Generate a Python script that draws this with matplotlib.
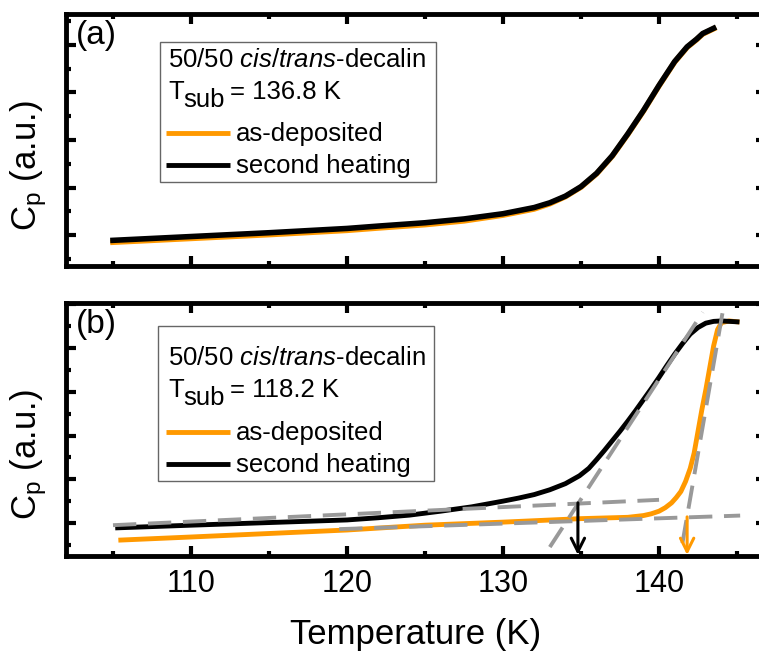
import matplotlib
matplotlib.use("Agg")
import matplotlib.pyplot as plt
from matplotlib.patches import Rectangle
from matplotlib.ticker import MultipleLocator

plt.rcParams['font.family'] = ['Liberation Sans', 'DejaVu Sans']
plt.rcParams['mathtext.fontset'] = 'custom'
plt.rcParams['mathtext.rm'] = 'Liberation Sans'
plt.rcParams['mathtext.it'] = 'Liberation Sans:italic'

ORANGE = '#ff9900'
GRAY = '#999999'

# ---- panel (a): T_sub = 136.8 K (arbitrary units) ----
a_T = [105, 110, 115, 120, 122, 125, 127.5, 130, 132, 133, 134, 135, 136, 137,
       138, 139, 140, 141, 141.8, 142.4, 142.8, 143.5]
a_second = [0.89, 0.97, 1.05, 1.14, 1.19, 1.26, 1.34, 1.45, 1.58, 1.68, 1.82, 2.02,
            2.30, 2.67, 3.13, 3.62, 4.15, 4.65, 4.96, 5.12, 5.24, 5.35]
a_asdep = [0.85, 0.93, 1.01, 1.10, 1.15, 1.22, 1.30, 1.42, 1.55, 1.66, 1.81, 2.01,
           2.29, 2.66, 3.12, 3.61, 4.14, 4.64, 4.95, 5.11, 5.23, 5.34]

# ---- panel (b): T_sub = 118.2 K ----
b_T_second = [105.3, 110, 115, 120, 122, 124, 126, 128, 130, 131, 132, 133, 134,
              134.9, 135.5, 136, 136.5, 137, 137.5, 138, 138.5, 139, 139.5, 140,
              140.5, 141, 141.5, 142, 142.5, 143, 143.5, 144, 145]
b_second = [0.89, 0.95, 1.01, 1.07, 1.12, 1.18, 1.27, 1.37, 1.50, 1.57, 1.65, 1.76,
            1.90, 2.08, 2.25, 2.45, 2.66, 2.88, 3.10, 3.33, 3.57, 3.82, 4.07, 4.33,
            4.60, 4.86, 5.10, 5.32, 5.47, 5.57, 5.61, 5.62, 5.60]
b_T_asdep = [105.5, 110, 115, 120, 125, 130, 135, 138, 139, 139.5, 140, 140.4,
             140.8, 141.1, 141.4, 141.7, 142.0, 142.25, 142.5, 142.75, 143.0, 143.25,
             143.5, 143.75, 144.0, 144.5, 145]
b_asdep = [0.61, 0.68, 0.76, 0.84, 0.95, 1.02, 1.10, 1.13, 1.17, 1.21, 1.27, 1.35,
           1.46, 1.58, 1.72, 1.95, 2.25, 2.60, 3.10, 3.60, 4.05, 4.55, 5.05, 5.42,
           5.58, 5.62, 5.60]

# onset construction lines (start, end) and onset temperatures
fit_lines = [((105.0, 140.0), (0.95, 1.53)),
             ((119.5, 145.2), (0.86, 1.17)),
             ((133.0, 142.8), (0.45, 5.82)),
             ((141.5, 144.1), (0.54, 5.87))]
onsets = [(134.8, 1.46, 'black'), (141.8, 1.14, ORANGE)]

XLIM = (101.99, 146.86)
AX_W, AX_H = 700.0, 252.0   # axes size in pixels, used for legend placement


def px(x, y):
    return x / AX_W, 1 - y / AX_H


def style_axes(ax, ylim):
    ax.set_xlim(*XLIM)
    ax.set_ylim(*ylim)
    ax.xaxis.set_major_locator(MultipleLocator(10))
    ax.xaxis.set_minor_locator(MultipleLocator(5))
    ax.yaxis.set_major_locator(MultipleLocator(1))
    ax.yaxis.set_minor_locator(MultipleLocator(0.5))
    ax.tick_params(which='both', direction='in', top=True, right=True,
                   width=3, labelleft=False, labelsize=22, pad=9)
    ax.tick_params(which='major', length=7)
    ax.tick_params(which='minor', length=3.5)
    for s in ax.spines.values():
        s.set_linewidth(3.5)
    ax.set_ylabel(r'C$_\mathrm{p}$ (a.u.)', fontsize=25)
    ax.yaxis.set_label_coords(-0.025, 0.40)


def draw_legend(ax, tsub, box, y0):
    bx0, by0, bx1, by1 = box
    ax.add_patch(Rectangle(px(bx0, by1), (bx1 - bx0) / AX_W, (by1 - by0) / AX_H,
                           transform=ax.transAxes, fill=False, ec='0.4', lw=1, zorder=6))
    kw = dict(transform=ax.transAxes, fontsize=18.5, va='baseline', ha='left', zorder=7)
    ax.text(*px(102, y0), r'50/50 $\mathit{cis/trans}$-decalin', **kw)
    ax.text(*px(102, y0 + 32), 'T', **kw)
    ax.text(*px(117, y0 + 40), 'sub', **kw)
    ax.text(*px(164, y0 + 32), '= ' + tsub, **kw)
    for i, (lab, col) in enumerate([('as-deposited', ORANGE), ('second heating', 'black')]):
        yl = y0 + 66 + 32 * i
        ax.plot([100 / AX_W, 164 / AX_W], [1 - yl / AX_H] * 2, color=col, lw=3.5,
                transform=ax.transAxes, zorder=7, solid_capstyle='butt')
        ax.text(*px(170, yl + 8), lab, **kw)


fig = plt.figure(figsize=(7.59, 6.56), dpi=100)
ax_a = fig.add_axes([0.0870, 0.5945, 0.9223, 0.3841])
ax_b = fig.add_axes([0.0870, 0.1524, 0.9223, 0.3857])

# --- Panel (a) ---
ax_a.plot(a_T, a_asdep, color=ORANGE, lw=4)
ax_a.plot(a_T, a_second, color='black', lw=4)
style_axes(ax_a, (0.35, 5.65))
ax_a.tick_params(labelbottom=False)
ax_a.text(*px(10, 6), '(a)', transform=ax_a.transAxes, fontsize=24, va='top')
draw_legend(ax_a, '136.8 K', (94, 28, 370, 168), 53)

# --- Panel (b) ---
ax_b.plot(b_T_asdep, b_asdep, color=ORANGE, lw=3.5)
ax_b.plot(b_T_second, b_second, color='black', lw=3.5)
for xs, ys in fit_lines:
    ax_b.plot(xs, ys, color=GRAY, lw=2.8, linestyle=(0, (6, 3)), zorder=4)
for t, y, col in onsets:
    ax_b.annotate('', xy=(t, 0.27), xytext=(t, y),
                  arrowprops=dict(arrowstyle='->', color=col, lw=2.2,
                                  mutation_scale=24, shrinkA=0, shrinkB=0), zorder=5)
style_axes(ax_b, (0.245, 6.03))
ax_b.text(*px(10, 6), '(b)', transform=ax_b.transAxes, fontsize=24, va='top')
draw_legend(ax_b, '118.2 K', (92, 23, 368, 177), 62)
ax_b.set_xlabel('Temperature (K)', fontsize=25, labelpad=14)

fig.savefig('out.png', dpi=100)
